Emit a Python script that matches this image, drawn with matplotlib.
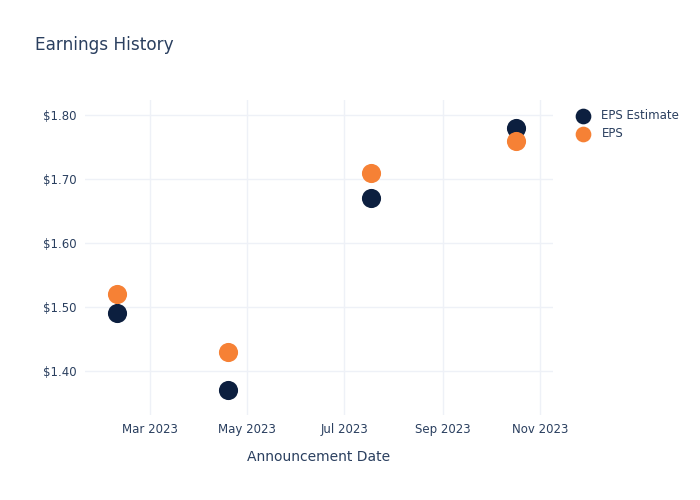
import datetime as dt
import matplotlib.pyplot as plt
import matplotlib.dates as mdates
from matplotlib.ticker import FuncFormatter

# values
dates = [dt.date(2023, 2, 8), dt.date(2023, 4, 19), dt.date(2023, 7, 18), dt.date(2023, 10, 17)]
eps_estimate = [1.49, 1.37, 1.67, 1.78]
eps_actual = [1.52, 1.43, 1.71, 1.76]
tick_dates = [dt.date(2023, 3, 1), dt.date(2023, 5, 1), dt.date(2023, 7, 1), dt.date(2023, 9, 1), dt.date(2023, 11, 1)]
y_ticks = [1.40, 1.50, 1.60, 1.70, 1.80]

text_color = '#2a3f5f'
grid_color = '#eef1f7'

fig = plt.figure(figsize=(7, 5), dpi=100)
ax = fig.add_axes([0.121, 0.17, 0.669, 0.63])

ax.scatter(dates, eps_estimate, s=190, color='#0c1f3f', label='EPS Estimate', zorder=3, linewidths=0)
ax.scatter(dates, eps_actual, s=190, color='#f68135', label='EPS', zorder=3, linewidths=0)

ax.set_xlim(dt.date(2023, 1, 19), dt.date(2023, 11, 9))
ax.set_ylim(1.331, 1.8234)
ax.set_xticks(tick_dates)
ax.xaxis.set_major_formatter(mdates.DateFormatter('%b %Y'))
ax.set_yticks(y_ticks)
ax.yaxis.set_major_formatter(FuncFormatter(lambda v, p: f'${v:.2f}'))

ax.grid(True, color=grid_color, linewidth=1)
ax.set_axisbelow(True)
for s in ax.spines.values():
    s.set_visible(False)
ax.tick_params(length=0, labelsize=8.5, labelcolor=text_color, pad=6)

ax.set_xlabel('Announcement Date', fontsize=10, color=text_color, labelpad=10)
fig.text(0.05, 0.9, 'Earnings History', fontsize=12.2, color=text_color)

leg = fig.legend(loc='upper left', bbox_to_anchor=(0.817, 0.792), frameon=False,
                 fontsize=8.5, labelcolor=text_color, handletextpad=1.1,
                 labelspacing=0.45, borderaxespad=0, handlelength=1.0,
                 markerscale=0.82)

fig.savefig('out.png', dpi=100, facecolor='white')
